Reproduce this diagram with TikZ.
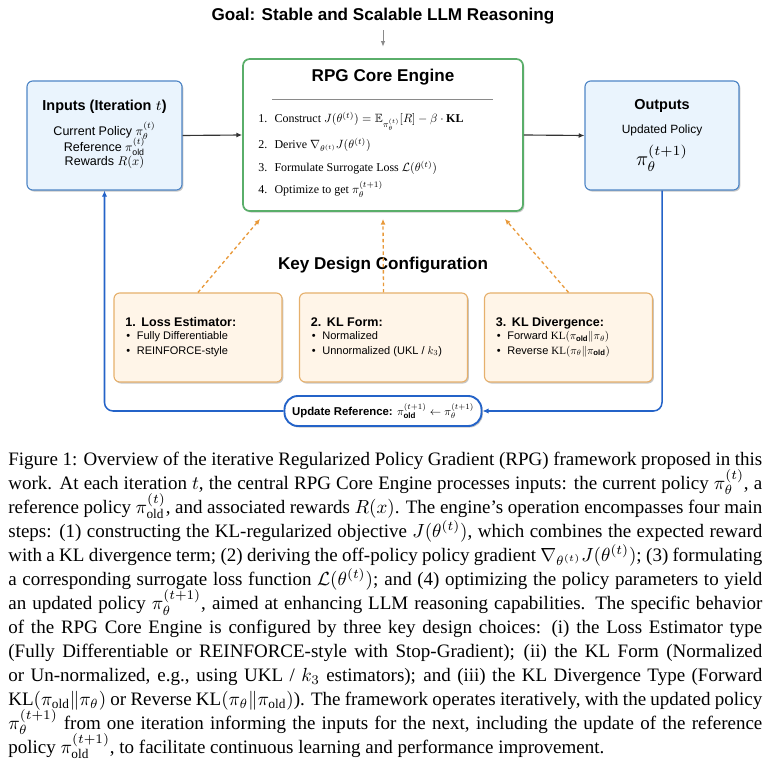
\RequirePackage{fix-cm}
\documentclass[tikz,border=0pt]{standalone}
\usepackage{amsmath,amssymb}
\usepackage{graphicx}
\usepackage{fontspec}
\setmainfont{Liberation Serif}
\setsansfont{Liberation Sans}
\usetikzlibrary{arrows.meta,shadows,calc}
\def\PX{0.5263pt}
\definecolor{boxblue}{HTML}{EAF4FD}
\definecolor{bordblue}{HTML}{4F86C6}
\definecolor{loopblue}{HTML}{2463C8}
\definecolor{enggreen}{HTML}{5AAE6A}
\definecolor{orfill}{HTML}{FFF5E8}
\definecolor{orbord}{HTML}{E6B06C}
\definecolor{ordash}{HTML}{E8993A}
\definecolor{darkarr}{HTML}{333333}
\definecolor{grayarr}{HTML}{8A8A8A}
\newcommand{\bulbox}{\makebox[9.5pt][l]{\textbullet}}
\newcommand{\jline}[1]{\hbox to 396.8pt{#1}}
\begin{document}
\begin{tikzpicture}[x=\PX,y=-\PX,
  shd/.style={drop shadow={shadow xshift=0.7pt,shadow yshift=-0.8pt,opacity=0.22,fill=black}},
  bbox/.style={draw=bordblue,fill=boxblue,line width=0.6pt,rounded corners=3pt,shd,inner sep=0},
  ebox/.style={draw=enggreen,fill=white,line width=0.9pt,rounded corners=3.5pt,shd,inner sep=0},
  obox/.style={draw=orbord,fill=orfill,line width=0.6pt,rounded corners=3pt,shd,inner sep=0,
     minimum width=168*\PX,minimum height=89*\PX},
  ubox/.style={draw=loopblue,fill=white,line width=1pt,rounded corners=7pt,shd,inner sep=0,
     minimum width=197*\PX,minimum height=30*\PX,font=\sffamily\fontsize{10}{12}\selectfont},
  bigttl/.style={inner sep=0,font=\sffamily\bfseries\fontsize{9}{11}\selectfont},
  midttl/.style={inner sep=0,font=\sffamily\bfseries\fontsize{7.6}{9}\selectfont},
  smttl/.style={inner sep=0,anchor=base west,font=\sffamily\bfseries\fontsize{6.6}{8}\selectfont},
  body/.style={inner sep=0,anchor=base,font=\sffamily\fontsize{10}{12}\selectfont},
  obody/.style={inner sep=0,font=\sffamily\fontsize{6.3}{8}\selectfont},
  bul/.style={inner sep=0,anchor=base west,font=\sffamily\fontsize{10}{12}\selectfont},
  itm/.style={inner sep=0,anchor=base west,font=\rmfamily\fontsize{10}{12}\selectfont},
  capline/.style={inner sep=0,anchor=base west,font=\rmfamily\fontsize{10}{12}\selectfont},
  darrow/.style={draw=darkarr,line width=0.6pt,-{Latex[length=3pt,width=2.6pt]}},
  garrow/.style={draw=grayarr,line width=0.5pt,-{Latex[length=3pt,width=2.4pt]}},
  dasharrow/.style={draw=ordash,line width=0.7pt,dash pattern=on 1.8pt off 1.5pt,-{Latex[length=3pt,width=2.6pt]}},
  looparrow/.style={draw=loopblue,line width=0.8pt,rounded corners=4.5pt,-{Latex[length=3.2pt,width=2.8pt]}}
]
\useasboundingbox (0,0) rectangle (766,759);

% title and goal arrow
\node[bigttl] (goal) at (383,16) {Goal: Stable and Scalable LLM Reasoning};

% engine
\node[ebox,minimum width=280*\PX,minimum height=152*\PX] (engine) at (383,135) {};
\node[bigttl] (engttl) at (383,77) {RPG Core Engine};
\coordinate (rl) at (272,99);
\coordinate (rr) at (493,99);
\draw[draw=grayarr,line width=0.5pt] (rl) -- (rr);
\node[itm] (s1) at (258,123) {\scalebox{0.63}{1.\hspace{0.6em}Construct $J(\theta^{(t)})=\mathbb{E}_{\pi_\theta^{(t)}}[R]-\beta\cdot\mathbf{KL}$}};
\node[itm] (s2) at (258,149) {\scalebox{0.63}{2.\hspace{0.6em}Derive $\nabla_{\theta^{(t)}}J(\theta^{(t)})$}};
\node[itm] (s3) at (258,172) {\scalebox{0.63}{3.\hspace{0.6em}Formulate Surrogate Loss $\mathcal{L}(\theta^{(t)})$}};
\node[itm] (s4) at (258,194) {\scalebox{0.63}{4.\hspace{0.6em}Optimize to get $\pi_\theta^{(t+1)}$}};

\draw[garrow,shorten <=3pt,shorten >=6pt] (goal.south) -- (engine.north);

% inputs
\node[bbox,minimum width=155*\PX,minimum height=109*\PX] (inputs) at (104.5,135.5) {};
\node[midttl] (inttl) at (104.5,106.5) {Inputs (Iteration $t$)};
\node[body] (in1) at (104.5,135.5) {\scalebox{0.66}{Current Policy $\pi_\theta^{(t)}$}};
\node[body] (in2) at (104.5,151.5) {\scalebox{0.66}{Reference $\pi_{\text{old}}^{(t)}$}};
\node[body] (in3) at (104.5,166) {\scalebox{0.66}{Rewards $R(x)$}};

% outputs
\node[bbox,minimum width=154*\PX,minimum height=109*\PX] (outputs) at (662,135.5) {};
\node[midttl] (outttl) at (662,106) {Outputs};
\node[obody,anchor=base] (out1) at (662,134) {Updated Policy};
\node[inner sep=0,font=\fontsize{10}{12}\selectfont] (out2) at (662,158) {\scalebox{1.05}{$\pi_\theta^{(t+1)}$}};

\draw[darrow] (inputs.east) -- (engine.west);
\draw[darrow] (engine.east) -- (outputs.west);

% key design configuration
\node[bigttl] (kdc) at (383,265) {Key Design Configuration};

\node[obox] (est) at (198,337.5) {};
\node[obox] (klf) at (383.5,337.5) {};
\node[obox] (kld) at (568.5,337.5) {};

\node[smttl] (estt) at (125,327) {1.\hspace{0.45em}Loss Estimator:};
\node[bul] (est1) at (126,339.5) {\scalebox{0.58}{\bulbox Fully Differentiable}};
\node[bul] (est2) at (126,354) {\scalebox{0.58}{\bulbox REINFORCE-style}};

\node[smttl] (klft) at (310.5,327) {2.\hspace{0.45em}KL Form:};
\node[bul] (klf1) at (311.5,339.5) {\scalebox{0.58}{\bulbox Normalized}};
\node[bul] (klf2) at (311.5,354) {\scalebox{0.58}{\bulbox Unnormalized (UKL / $k_3$)}};

\node[smttl] (kldt) at (495.5,327) {3.\hspace{0.45em}KL Divergence:};
\node[bul] (kld1) at (496.5,339.5) {\scalebox{0.58}{\bulbox Forward $\mathrm{KL}(\pi_{\text{\bfseries old}}\|\pi_\theta)$}};
\node[bul] (kld2) at (496.5,354) {\scalebox{0.58}{\bulbox Reverse $\mathrm{KL}(\pi_\theta\|\pi_{\text{\bfseries old}})$}};

\draw[dasharrow] (est.north) -- ($(engine.south west)+(18,7)$);
\draw[dasharrow] (klf.north) -- ($(engine.south)+(0,7)$);
\draw[dasharrow] (kld.north) -- ($(engine.south east)+(-19,7)$);

% update reference loop
\node[ubox] (upd) at (383,411) {\scalebox{0.6}{\textbf{Update Reference:} $\pi_{\text{\bfseries old}}^{(t+1)}\leftarrow\pi_\theta^{(t+1)}$}};
\draw[looparrow] (outputs.south) |- (upd.east);
\draw[looparrow] (upd.west) -| (inputs.south);

% caption, one justified line per node
\node[capline] (c1) at (8,465) {\jline{Figure 1: Overview of the iterative Regularized Policy Gradient (RPG) framework proposed in this}};
\node[capline] (c2) at (8,489) {\jline{work. At each iteration $t$, the central RPG Core Engine processes inputs: the current policy $\pi_\theta^{(t)}$, a}};
\node[capline] (c3) at (8,513) {\jline{reference policy $\pi_{\text{old}}^{(t)}$, and associated rewards $R(x)$. The engine’s operation encompasses four main}};
\node[capline] (c4) at (8,537) {\jline{steps: (1) constructing the KL-regularized objective $J(\theta^{(t)})$, which combines the expected reward}};
\node[capline] (c5) at (8,561) {\jline{with a KL divergence term; (2) deriving the off-policy policy gradient $\nabla_{\theta^{(t)}}J(\theta^{(t)})$; (3) formulating}};
\node[capline] (c6) at (8,585) {\jline{a corresponding surrogate loss function $\mathcal{L}(\theta^{(t)})$; and (4) optimizing the policy parameters to yield}};
\node[capline] (c7) at (8,609.5) {\jline{an updated policy $\pi_\theta^{(t+1)}$, aimed at enhancing LLM reasoning capabilities. The specific behavior}};
\node[capline] (c8) at (8,633.5) {\jline{of the RPG Core Engine is configured by three key design choices: (i) the Loss Estimator type}};
\node[capline] (c9) at (8,657.5) {\jline{(Fully Differentiable or REINFORCE-style with Stop-Gradient); (ii) the KL Form (Normalized}};
\node[capline] (c10) at (8,681.5) {\jline{or Un-normalized, e.g., using UKL / $k_3$ estimators); and (iii) the KL Divergence Type (Forward}};
\node[capline] (c11) at (8,705.5) {\jline{$\mathrm{KL}(\pi_{\text{old}}\|\pi_\theta)$ or Reverse $\mathrm{KL}(\pi_\theta\|\pi_{\text{old}})$). The framework operates iteratively, with the updated policy}};
\node[capline] (c12) at (8,729) {\jline{$\pi_\theta^{(t+1)}$ from one iteration informing the inputs for the next, including the update of the reference}};
\node[capline] (c13) at (8,753) {policy $\pi_{\text{old}}^{(t+1)}$, to facilitate continuous learning and performance improvement.};
\end{tikzpicture}
\end{document}
